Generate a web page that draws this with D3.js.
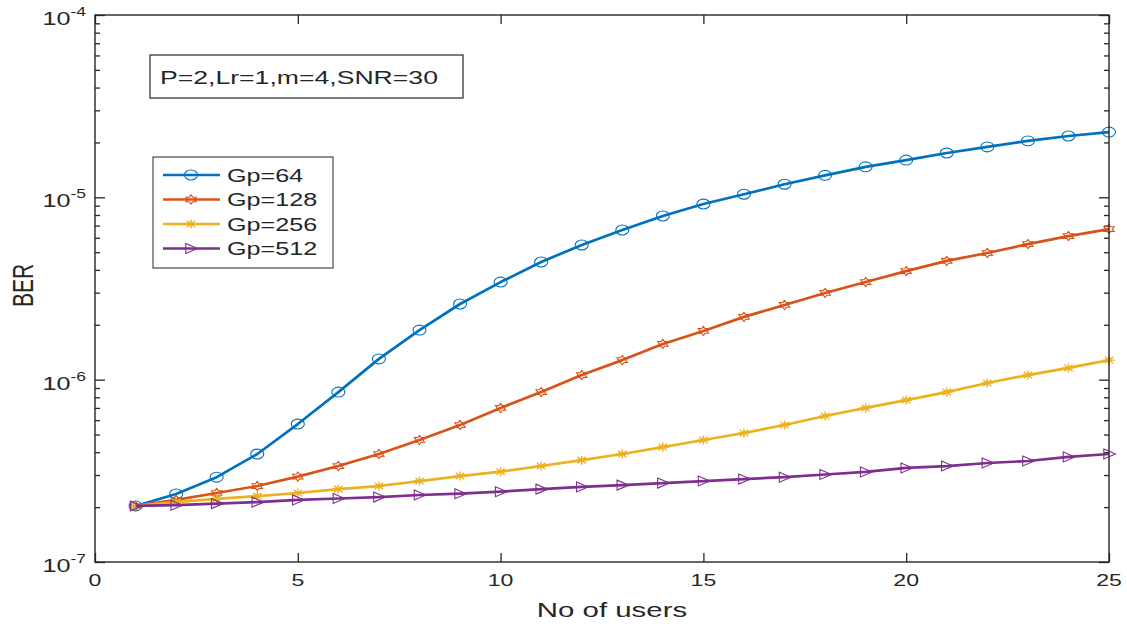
<!DOCTYPE html>
<html>
<head>
<meta charset="utf-8">
<script src="https://cdn.jsdelivr.net/npm/d3@7"></script>
<style>
  body { margin: 0; background: #fff; }
  text { font-family: "Liberation Sans", Arial, sans-serif; fill: #262626; }
</style>
</head>
<body>
<div id="chart"></div>
<script>
// values
var users = d3.range(1, 26);
var gp64  = [2.03e-7, 2.36e-7, 2.92e-7, 3.91e-7, 5.71e-7, 8.55e-7, 1.30e-6, 1.87e-6, 2.60e-6, 3.43e-6,
             4.42e-6, 5.48e-6, 6.62e-6, 7.90e-6, 9.19e-6, 1.04e-5, 1.18e-5, 1.32e-5, 1.47e-5, 1.60e-5,
             1.75e-5, 1.89e-5, 2.04e-5, 2.17e-5, 2.28e-5];
var gp128 = [2.03e-7, 2.19e-7, 2.39e-7, 2.61e-7, 2.94e-7, 3.36e-7, 3.91e-7, 4.67e-7, 5.64e-7, 7.00e-7,
             8.55e-7, 1.06e-6, 1.28e-6, 1.57e-6, 1.85e-6, 2.21e-6, 2.57e-6, 2.99e-6, 3.43e-6, 3.94e-6,
             4.48e-6, 4.95e-6, 5.54e-6, 6.13e-6, 6.70e-6];
var gp256 = [2.03e-7, 2.13e-7, 2.22e-7, 2.30e-7, 2.39e-7, 2.51e-7, 2.61e-7, 2.78e-7, 2.96e-7, 3.13e-7,
             3.36e-7, 3.62e-7, 3.91e-7, 4.27e-7, 4.67e-7, 5.10e-7, 5.64e-7, 6.32e-7, 7.00e-7, 7.73e-7,
             8.55e-7, 9.59e-7, 1.06e-6, 1.16e-6, 1.28e-6];
var gp512 = [2.03e-7, 2.05e-7, 2.09e-7, 2.13e-7, 2.19e-7, 2.23e-7, 2.27e-7, 2.33e-7, 2.37e-7, 2.43e-7,
             2.51e-7, 2.58e-7, 2.64e-7, 2.71e-7, 2.78e-7, 2.85e-7, 2.92e-7, 3.02e-7, 3.12e-7, 3.28e-7,
             3.36e-7, 3.49e-7, 3.58e-7, 3.77e-7, 3.91e-7];
var seriesNames = ["Gp=64", "Gp=128", "Gp=256", "Gp=512"];
var xTicks = [0, 5, 10, 15, 20, 25];
var yExps = [-7, -6, -5, -4];
var note = "P=2,Lr=1,m=4,SNR=30";

var W = 1127, H = 624;
var margin = {top: 15, right: 18, bottom: 62, left: 95},
    width = W - margin.left - margin.right,
    height = H - margin.top - margin.bottom;
var SX = 1.4; // the figure is stretched sideways

var svg = d3.select("#chart").append("svg")
    .attr("width", W).attr("height", H);
var g = svg.append("g")
    .attr("transform", "translate(" + margin.left + "," + margin.top + ")");

var x = d3.scaleLinear().domain([0, 25]).range([0, width]);
var y = d3.scaleLog().domain([1e-7, 1e-4]).range([height, 0]);

var majorY = yExps.map(function(e) { return Math.pow(10, e); });
var minorY = [];
yExps.slice(0, 3).forEach(function(e) {
  for (var k = 2; k <= 9; k++) minorY.push(k * Math.pow(10, e));
});

function tickAxis(axis) {
  return function(sel) {
    sel.call(axis);
    sel.select(".domain").remove();
    sel.selectAll("line").attr("stroke", "#262626").attr("stroke-width", 1.3);
  };
}

// ticks, pointing inward
g.append("g").attr("transform", "translate(0," + height + ")")
  .call(tickAxis(d3.axisBottom(x).tickValues(xTicks).tickSize(-9).tickFormat("")));
g.append("g")
  .call(tickAxis(d3.axisTop(x).tickValues(xTicks).tickSize(-9).tickFormat("")));
g.append("g").call(tickAxis(d3.axisLeft(y).tickValues(majorY).tickSize(-10).tickFormat("")));
g.append("g").call(tickAxis(d3.axisLeft(y).tickValues(minorY).tickSize(-5).tickFormat("")));
g.append("g").attr("transform", "translate(" + width + ",0)")
  .call(tickAxis(d3.axisRight(y).tickValues(majorY).tickSize(-10).tickFormat("")));
g.append("g").attr("transform", "translate(" + width + ",0)")
  .call(tickAxis(d3.axisRight(y).tickValues(minorY).tickSize(-5).tickFormat("")));

// tick labels
xTicks.forEach(function(t) {
  g.append("text")
    .attr("transform", "translate(" + x(t) + "," + (height + 24) + ") scale(" + SX + ",1)")
    .attr("text-anchor", "middle")
    .style("font-size", "16.5px")
    .text(t);
});
yExps.forEach(function(e) {
  var t = g.append("text")
    .attr("transform", "translate(-9," + (y(Math.pow(10, e)) + 10) + ") scale(" + SX + ",1)")
    .attr("text-anchor", "end")
    .style("font-size", "18px");
  t.append("tspan").text("10");
  t.append("tspan").attr("dy", -9).style("font-size", "12.5px").text("-" + Math.abs(e));
});

// axis labels
g.append("text")
  .attr("transform", "translate(" + (width / 2 + 10) + "," + (height + 55) + ") scale(" + SX + ",1)")
  .attr("text-anchor", "middle")
  .style("font-size", "21px")
  .text("No of users");
g.append("text")
  .attr("transform", "translate(" + (-62) + "," + (height / 2 - 3) + ") scale(" + SX + ",1) rotate(-90)")
  .attr("text-anchor", "middle")
  .style("font-size", "21px")
  .text("BER");

// markers
var colors = ["#0072BD", "#D95319", "#EDB120", "#7E2F8E"];

function hexagram(r) {
  var pts = [];
  for (var i = 0; i < 12; i++) {
    var a = Math.PI / 2 + i * Math.PI / 6;
    var rr = (i % 2 === 0) ? r : r * 0.58;
    pts.push([rr * Math.cos(a), -rr * Math.sin(a)]);
  }
  return "M" + pts.join("L") + "Z";
}
var markerPaths = [
  d3.symbol().type(d3.symbolCircle).size(85)(),
  hexagram(4.6),
  "M0,-4.5L0,4.5M-4.5,0L4.5,0M-3.2,-3.2L3.2,3.2M-3.2,3.2L3.2,-3.2",
  "M-4,-5L5,0L-4,5Z"
];
var markerScale = [[1.25, 0.95], [1.3, 1], [1.3, 1], [1.3, 1]];

function drawMarker(sel, i, px, py) {
  sel.append("path")
    .attr("d", markerPaths[i])
    .attr("transform", "translate(" + px + "," + py + ") scale(" + markerScale[i][0] + "," + markerScale[i][1] + ")")
    .attr("fill", "none")
    .attr("stroke", colors[i])
    .attr("stroke-width", i === 2 ? 1.4 : 1.1)
    .attr("vector-effect", "non-scaling-stroke");
}

var line = d3.line()
  .x(function(d, i) { return x(users[i]); })
  .y(function(d) { return y(d); });

var plot = g.append("g");
[gp64, gp128, gp256, gp512].forEach(function(data, i) {
  var s = plot.append("g");
  s.append("path")
    .datum(data)
    .attr("d", line)
    .attr("fill", "none")
    .attr("stroke", colors[i])
    .attr("stroke-width", 2.7)
    .attr("stroke-linejoin", "round");
  data.forEach(function(v, j) {
    drawMarker(s, i, x(users[j]), y(v));
  });
});

// axes box
g.append("rect")
  .attr("width", width).attr("height", height)
  .attr("fill", "none").attr("stroke", "#262626").attr("stroke-width", 1.4);

// annotation
var nb = svg.append("g").attr("transform", "translate(150,55)");
nb.append("rect").attr("width", 313).attr("height", 43)
  .attr("fill", "#fff").attr("stroke", "#262626").attr("stroke-width", 1.2);
nb.append("text")
  .attr("transform", "translate(10,29) scale(" + SX + ",1)")
  .style("font-size", "19px")
  .text(note);

// legend
var lg = svg.append("g").attr("transform", "translate(153,157)");
lg.append("rect").attr("width", 180).attr("height", 111)
  .attr("fill", "#fff").attr("stroke", "#262626").attr("stroke-width", 1);
seriesNames.forEach(function(name, i) {
  var yy = 18 + i * 24.5;
  lg.append("line")
    .attr("x1", 10).attr("x2", 67).attr("y1", yy).attr("y2", yy)
    .attr("stroke", colors[i]).attr("stroke-width", 2.7);
  drawMarker(lg, i, 38, yy);
  lg.append("text")
    .attr("transform", "translate(74," + (yy + 6.5) + ") scale(" + SX + ",1)")
    .style("font-size", "18px")
    .text(name);
});
</script>
</body>
</html>
